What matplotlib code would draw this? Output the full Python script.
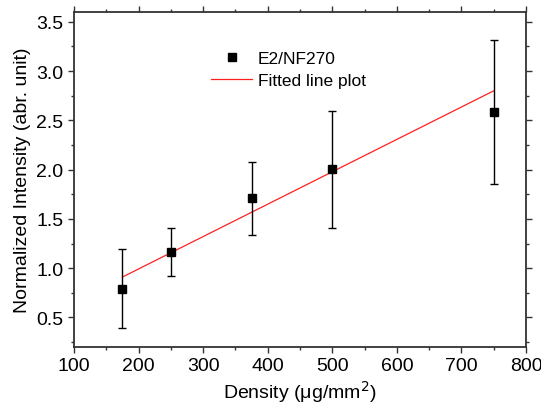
import matplotlib
matplotlib.use("Agg")
import matplotlib.pyplot as plt
from matplotlib.ticker import MultipleLocator, FormatStrFormatter
from matplotlib.lines import Line2D

plt.rcParams['font.family'] = ['Liberation Sans', 'DejaVu Sans']

density = [175, 250, 375, 500, 750]
intensity = [0.79, 1.16, 1.71, 2.01, 2.58]
err_low = [0.40, 0.24, 0.37, 0.60, 0.73]
err_high = [0.40, 0.25, 0.37, 0.59, 0.74]
fit_x = [175, 750]
fit_y = [0.91, 2.80]

fig = plt.figure(figsize=(5.41, 4.06), dpi=100)
ax = fig.add_axes([74/541, 1 - 348/406, (526-74)/541, (348-13)/406])

ax.errorbar(density, intensity, yerr=[err_low, err_high], fmt='s', color='black',
            markersize=6, ecolor='black', elinewidth=1.0, capsize=3, capthick=1.0,
            zorder=3)
ax.plot(fit_x, fit_y, color='#ff2020', linewidth=0.9, zorder=2)

ax.set_xlim(100, 800)
ax.set_ylim(0.2, 3.6)
ax.xaxis.set_major_locator(MultipleLocator(100))
ax.xaxis.set_minor_locator(MultipleLocator(50))
ax.yaxis.set_major_locator(MultipleLocator(0.5))
ax.yaxis.set_minor_locator(MultipleLocator(0.25))
ax.yaxis.set_major_formatter(FormatStrFormatter('%.1f'))
ax.tick_params(which='both', direction='out', top=True, right=True, labelsize=14,
               width=1, color='#333333')
ax.tick_params(which='major', length=4.5, pad=3)
ax.tick_params(which='minor', length=2.5)
for s in ax.spines.values():
    s.set_linewidth(1.3)
    s.set_color('#333333')

ax.set_xlabel('Density (μg/mm$^2$)', fontsize=14, labelpad=3)
ax.set_ylabel('Normalized Intensity (abr. unit)', fontsize=14, labelpad=4)

handles = [Line2D([], [], marker='s', color='black', linestyle='none', markersize=6),
           Line2D([], [], color='#ff2020', linewidth=0.9)]
ax.legend(handles, ['E2/NF270', 'Fitted line plot'], loc='upper left',
          bbox_to_anchor=(0.268, 0.93), frameon=False, fontsize=12.5,
          handlelength=2.4, handletextpad=0.3, labelspacing=0.38)

fig.savefig('out.png', dpi=100)
